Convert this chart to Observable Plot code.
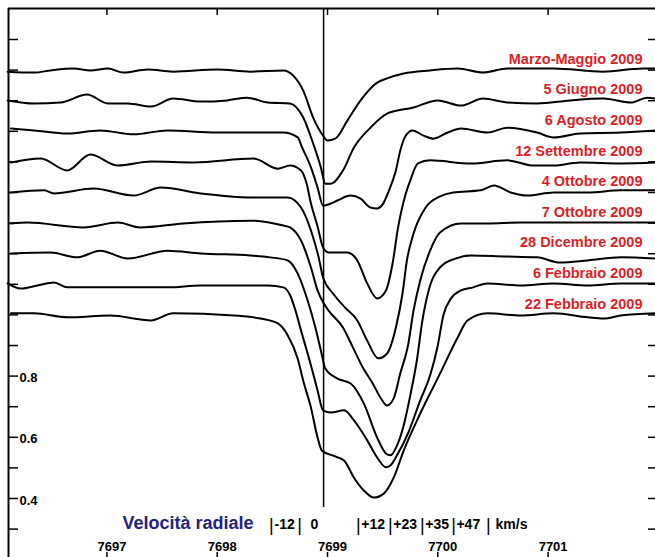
<!DOCTYPE html>
<html><head><meta charset="utf-8">
<script src="https://cdn.jsdelivr.net/npm/d3@7"></script>
<script src="https://cdn.jsdelivr.net/npm/@observablehq/plot@0.6"></script>
<style>html,body{margin:0;padding:0;background:#fff;overflow:hidden} #chart svg{display:block}</style>
</head><body><div id="chart"></div>
<script>
// ---- data (wavelength in Å, normalized flux) ----
const seriesNames = ["Marzo-Maggio 2009","5 Giugno 2009","6 Agosto 2009","12 Settembre 2009","4 Ottobre 2009","7 Ottobre 2009","28 Dicembre 2009","6 Febbraio 2009","22 Febbraio 2009"];
const offsets = [0.8, 0.7, 0.6, 0.5, 0.4, 0.3, 0.2, 0.1, 0.0];

const marzoMaggio = [[7696.10,0.995],[7696.34,0.992],[7696.49,0.999],[7696.70,1.005],[7696.85,0.999],[7697.01,1.005],[7697.15,0.992],[7697.37,1.002],[7697.60,0.995],[7698.00,1.002],[7698.30,0.995],[7698.60,0.999],[7698.69,0.982],[7698.78,0.933],[7698.87,0.845],[7698.96,0.786],[7699.00,0.770],[7699.07,0.776],[7699.18,0.835],[7699.30,0.901],[7699.45,0.959],[7699.54,0.973],[7699.69,0.989],[7699.93,0.999],[7700.18,1.005],[7700.41,0.992],[7700.63,1.005],[7701.05,1.005],[7701.50,0.995],[7701.86,1.005],[7701.97,1.005]];
const giugno5 = [[7696.10,1.001],[7696.34,0.991],[7696.58,0.994],[7696.82,1.020],[7697.01,0.991],[7697.19,0.991],[7697.40,0.981],[7697.60,1.007],[7697.85,0.997],[7698.09,1.001],[7698.27,1.010],[7698.46,0.994],[7698.66,0.991],[7698.78,0.945],[7698.87,0.860],[7698.94,0.782],[7698.98,0.729],[7699.03,0.729],[7699.14,0.772],[7699.24,0.847],[7699.39,0.912],[7699.54,0.958],[7699.78,0.978],[7700.00,1.001],[7700.21,0.984],[7700.41,1.007],[7700.63,0.994],[7700.90,0.991],[7701.20,1.001],[7701.50,1.007],[7701.75,0.994],[7701.90,1.010],[7701.97,1.007]];
const agosto6 = [[7696.13,1.009],[7696.34,1.003],[7696.64,0.993],[7696.94,1.003],[7697.24,0.990],[7697.55,1.003],[7698.00,0.996],[7698.33,0.996],[7698.60,0.996],[7698.73,0.980],[7698.77,0.947],[7698.85,0.882],[7698.91,0.816],[7698.96,0.757],[7699.03,0.764],[7699.09,0.774],[7699.21,0.790],[7699.30,0.780],[7699.39,0.751],[7699.45,0.748],[7699.50,0.761],[7699.55,0.800],[7699.62,0.872],[7699.66,0.937],[7699.71,0.986],[7699.77,1.003],[7699.87,0.986],[7699.96,0.976],[7700.09,0.996],[7700.21,1.009],[7700.45,0.996],[7700.63,1.012],[7700.90,0.996],[7701.05,0.980],[7701.29,0.993],[7701.66,0.996],[7701.97,1.003]];
const settembre12 = [[7696.13,0.998],[7696.40,1.011],[7696.64,0.972],[7696.85,1.024],[7697.10,0.988],[7697.40,1.001],[7697.79,0.998],[7698.33,1.011],[7698.55,0.978],[7698.66,0.988],[7698.76,0.972],[7698.81,0.930],[7698.85,0.864],[7698.91,0.789],[7698.96,0.720],[7699.01,0.704],[7699.18,0.704],[7699.27,0.678],[7699.36,0.603],[7699.45,0.554],[7699.53,0.580],[7699.59,0.668],[7699.64,0.786],[7699.71,0.897],[7699.75,0.939],[7699.82,0.995],[7699.93,1.005],[7700.30,0.995],[7700.63,1.005],[7700.87,0.988],[7701.05,0.988],[7701.29,0.998],[7701.66,0.995],[7701.97,0.998]];
const ottobre4 = [[7696.13,1.000],[7696.43,1.007],[7696.52,0.997],[7696.88,1.013],[7697.24,0.990],[7697.49,1.016],[7697.85,0.997],[7698.30,0.984],[7698.64,0.984],[7698.76,0.951],[7698.85,0.876],[7698.92,0.788],[7698.96,0.722],[7699.05,0.670],[7699.16,0.624],[7699.27,0.582],[7699.36,0.516],[7699.46,0.458],[7699.54,0.474],[7699.62,0.559],[7699.68,0.670],[7699.72,0.778],[7699.78,0.866],[7699.89,0.951],[7700.02,0.987],[7700.14,1.000],[7700.39,1.007],[7700.51,1.023],[7700.66,1.000],[7700.81,0.990],[7701.05,1.000],[7701.36,1.000],[7701.66,1.007],[7701.97,1.007]];
const ottobre7 = [[7696.13,0.999],[7696.28,1.002],[7696.79,0.986],[7697.10,1.002],[7697.30,0.986],[7697.69,0.999],[7698.30,1.008],[7698.60,0.992],[7698.66,0.986],[7698.76,0.943],[7698.85,0.855],[7698.91,0.780],[7698.96,0.741],[7699.01,0.714],[7699.14,0.659],[7699.23,0.594],[7699.32,0.528],[7699.41,0.476],[7699.48,0.430],[7699.54,0.404],[7699.60,0.427],[7699.66,0.509],[7699.73,0.600],[7699.78,0.714],[7699.84,0.812],[7699.93,0.910],[7700.02,0.969],[7700.21,0.999],[7700.45,0.999],[7700.75,1.002],[7701.66,1.002],[7701.97,1.002]];
const dicembre28 = [[7696.13,1.001],[7696.49,1.004],[7696.73,0.988],[7696.94,1.010],[7697.19,0.984],[7697.55,1.010],[7697.85,1.001],[7698.30,0.994],[7698.48,0.988],[7698.64,0.978],[7698.73,0.935],[7698.82,0.847],[7698.89,0.759],[7698.94,0.684],[7698.98,0.625],[7699.09,0.592],[7699.21,0.576],[7699.33,0.510],[7699.45,0.399],[7699.53,0.347],[7699.57,0.341],[7699.63,0.373],[7699.69,0.438],[7699.75,0.536],[7699.81,0.651],[7699.86,0.781],[7699.93,0.896],[7700.02,0.955],[7700.16,0.984],[7700.30,0.994],[7700.60,0.991],[7700.90,0.988],[7701.11,0.971],[7701.36,0.978],[7701.66,0.988],[7701.97,0.984]];
const febbraio6 = [[7696.10,1.003],[7696.22,0.986],[7696.37,0.996],[7696.52,1.006],[7696.64,0.990],[7696.94,0.990],[7697.55,0.990],[7697.85,0.996],[7698.46,0.996],[7698.60,0.990],[7698.66,0.965],[7698.71,0.914],[7698.76,0.849],[7698.85,0.735],[7698.91,0.653],[7698.96,0.588],[7699.03,0.581],[7699.15,0.588],[7699.24,0.555],[7699.36,0.490],[7699.45,0.434],[7699.53,0.402],[7699.57,0.408],[7699.63,0.441],[7699.73,0.513],[7699.84,0.620],[7699.93,0.702],[7700.00,0.800],[7700.05,0.898],[7700.12,0.954],[7700.21,0.980],[7700.32,0.990],[7700.45,1.003],[7700.75,0.996],[7701.05,1.003],[7701.36,0.996],[7701.66,1.003],[7701.97,1.003]];
const febbraio22 = [[7696.13,1.005],[7696.34,1.005],[7696.64,0.992],[7697.03,0.998],[7697.40,0.982],[7697.60,1.005],[7698.15,0.998],[7698.39,0.988],[7698.55,0.972],[7698.64,0.933],[7698.73,0.857],[7698.78,0.785],[7698.85,0.697],[7698.91,0.599],[7698.95,0.556],[7699.05,0.540],[7699.15,0.524],[7699.24,0.468],[7699.33,0.426],[7699.42,0.403],[7699.51,0.416],[7699.60,0.468],[7699.69,0.556],[7699.84,0.677],[7700.02,0.808],[7700.18,0.926],[7700.27,0.982],[7700.45,1.005],[7700.75,0.998],[7701.05,1.005],[7701.36,0.992],[7701.50,0.988],[7701.66,0.998],[7701.97,1.005]];

const spectra = [marzoMaggio, giugno5, agosto6, settembre12, ottobre4, ottobre7, dicembre28, febbraio6, febbraio22];

const lambdaTicks = [7697, 7698, 7699, 7700, 7701];
const fluxTicks = [0.3,0.4,0.5,0.6,0.7,0.8,0.9,1.0,1.1,1.2,1.3,1.4,1.5,1.6,1.7,1.8,1.9];
const fluxTickLabels = [0.4, 0.6, 0.8];
const restWavelength = 7698.9645; // K I
const velocityTitle = "Velocità radiale";
const velocityBars = [-18.4, -8.5, 12.3, 23.6, 34.9, 45.9, 58.2];       // km/s
const velocityLabels = ["-12", "0", "+12", "+23", "+35", "+47", "km/s"];
const velocityLabelAt = [-17.3, -4.6, 13.3, 24.6, 35.9, 46.9, 60.7];    // km/s

// ---- build ----
const C = 299792.458;
const vToL = v => restWavelength * (1 + v / C);
const xDomain = [7696.1079, 7701.9737];
const yDomain = [0.20719, 2.00131];
const W = 655, H = 557, mL = 8, mT = 8;
const pxX = (xDomain[1] - xDomain[0]) / (W - mL);
const pxY = (yDomain[1] - yDomain[0]) / (H - mT);

const rows = spectra.flatMap((s, i) => s.map(([l, f]) => ({series: seriesNames[i], lambda: l, flux: f + offsets[i]})));
const labels = seriesNames.map((n, i) => ({name: n, y: 1 + offsets[i]}));
const velBars = velocityBars.map(v => ({x: vToL(v), bold: v > 50}));
const velText = velocityLabels.map((t, i) => ({x: vToL(velocityLabelAt[i]), t}));

const font = "Liberation Sans, Arial, Helvetica, sans-serif";

const chart = Plot.plot({
  width: W, height: H,
  marginLeft: mL, marginTop: mT, marginRight: 0, marginBottom: 0,
  x: {domain: xDomain, axis: null},
  y: {domain: yDomain, axis: null},
  style: {fontFamily: font, background: "white", overflow: "visible"},
  marks: [
    // frame
    Plot.ruleX([xDomain[0]], {stroke: "black", strokeWidth: 2}),
    Plot.ruleY([yDomain[1]], {stroke: "black", strokeWidth: 2}),
    // ticks
    Plot.ruleX(lambdaTicks, {y1: yDomain[1], y2: yDomain[1] - 7 * pxY, stroke: "black", strokeWidth: 1.5}),
    Plot.ruleX(lambdaTicks, {y1: yDomain[0], y2: yDomain[0] + 5 * pxY, stroke: "black", strokeWidth: 1.5}),
    Plot.ruleY(fluxTicks, {x1: xDomain[0], x2: xDomain[0] + 10 * pxX, stroke: "black", strokeWidth: 1.5}),
    Plot.ruleY(fluxTicks, {x1: xDomain[1] - 7 * pxX, x2: xDomain[1], stroke: "black", strokeWidth: 1.5}),
    // zero-velocity line
    Plot.ruleX([restWavelength], {y1: yDomain[0] + 50 * pxY, y2: yDomain[1], stroke: "black", strokeWidth: 1.5}),
    // spectra
    Plot.line(rows, {x: "lambda", y: "flux", z: "series", stroke: "black", strokeWidth: 2, curve: "monotone-x", strokeLinejoin: "round"}),
    // y tick labels
    Plot.text(fluxTickLabels, {y: d => d, frameAnchor: "left", dx: 11, dy: 2, text: d => d.toFixed(1), textAnchor: "start", fontSize: 13, fontWeight: "bold", fill: "black"}),
    // x tick labels
    Plot.text(lambdaTicks, {x: d => d, frameAnchor: "bottom", dy: -7, dx: 5, text: d => String(d), fontSize: 13, fontWeight: "bold", fill: "black"}),
    // series labels
    Plot.text(labels, {y: "y", frameAnchor: "right", dx: -13, dy: -11, text: "name", textAnchor: "end", fontSize: 14.5, fontWeight: "bold", fill: "#dc1f26"}),
    // velocity row
    Plot.text([velocityTitle], {x: vToL(-18.4), frameAnchor: "bottom", dy: -29, dx: -18, text: d => d, textAnchor: "end", fontSize: 18, fontWeight: "bold", fill: "#23237d"}),
    Plot.text(velBars, {x: "x", frameAnchor: "bottom", dy: -27, text: () => "|", fontSize: 18, fontWeight: d => d.bold ? "bold" : "normal", fill: "black"}),
    Plot.text(velText, {x: "x", frameAnchor: "bottom", dy: -29, text: "t", textAnchor: "start", fontSize: 14, fontWeight: "bold", fill: "black"})
  ]
});
document.getElementById("chart").appendChild(chart);
</script>
</body></html>
